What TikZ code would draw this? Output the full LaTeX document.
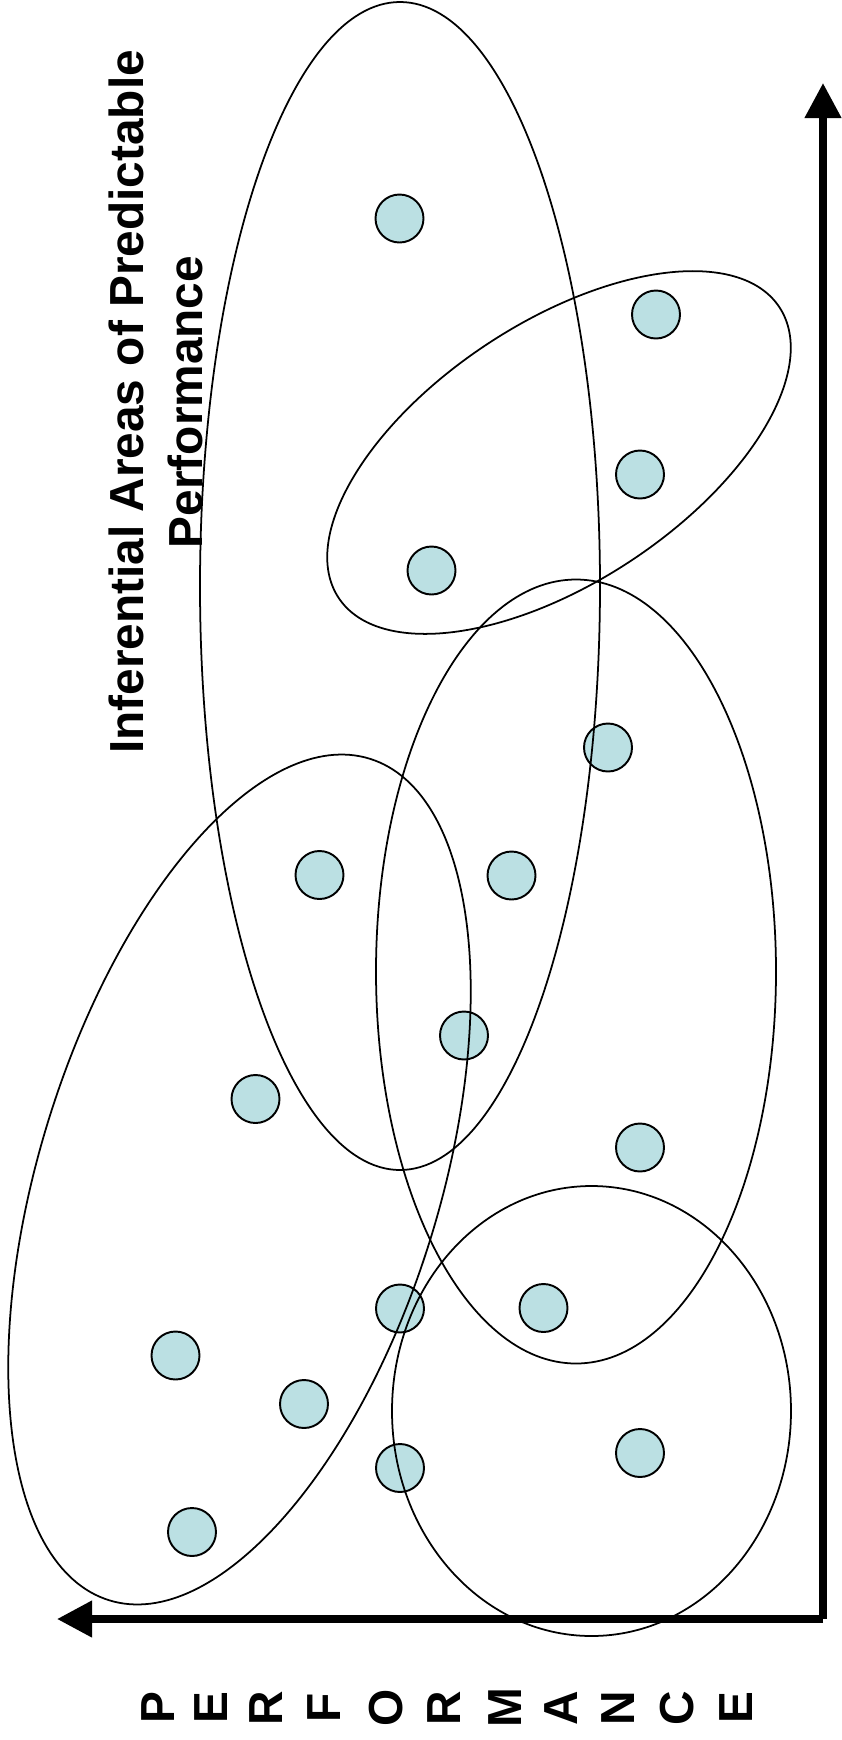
\documentclass[tikz,border=0pt]{standalone}
\usepackage{fontspec}
\setmainfont{Liberation Sans}
\usetikzlibrary{shapes.geometric, arrows.meta}
\usepackage{xcolor}
\definecolor{dotFill}{RGB}{187,224,227}
\tikzset{
    clusterDot/.style={
        circle, draw=black, fill=dotFill, line width=1.1pt, minimum size=0.96cm, inner sep=0pt
    },
    clusterArea/.style={
        ellipse, draw=black, line width=1pt, inner sep=0pt
    },
    axisArrow/.style={
        -{Triangle[length=0.7cm, width=0.7cm]}, line width=4.2pt, draw=black
    },
    axisLetter/.style={
        rotate=90, inner sep=0pt, font=\fontsize{27.2}{32}\selectfont\bfseries
    },
    titleText/.style={
        rotate=90, align=center, inner sep=0pt, font=\fontsize{27.2}{33.4}\selectfont\bfseries
    }
}

\begin{document}
\begin{tikzpicture}
    \useasboundingbox (0, 0) rectangle (16.82, -34.8);

    % ── TITLE
    \node[titleText] (areaTitle) at (3.12, -8.04) {Inferential Areas of Predictable\\Performance};

    % ── DATA POINTS
    \node[clusterDot] (dot1) at (7.99, -4.37) {};
    \node[clusterDot] (dot2) at (13.12, -6.29) {};
    \node[clusterDot] (dot3) at (12.80, -9.49) {};
    \node[clusterDot] (dot4) at (8.63, -11.41) {};
    \node[clusterDot] (dot5) at (12.16, -14.95) {};
    \node[clusterDot] (dot6) at (6.39, -17.50) {};
    \node[clusterDot] (dot7) at (10.23, -17.51) {};
    \node[clusterDot] (dot8) at (9.28, -20.71) {};
    \node[clusterDot] (dot9) at (5.11, -21.98) {};
    \node[clusterDot] (dot10) at (12.80, -22.95) {};
    \node[clusterDot] (dot11) at (8.00, -26.17) {};
    \node[clusterDot] (dot12) at (10.87, -26.16) {};
    \node[clusterDot] (dot13) at (3.51, -27.11) {};
    \node[clusterDot] (dot14) at (6.08, -28.08) {};
    \node[clusterDot] (dot15) at (8.00, -29.36) {};
    \node[clusterDot] (dot16) at (12.80, -29.06) {};
    \node[clusterDot] (dot17) at (3.84, -30.64) {};

    % ── AREAS (drawn over the points)
    \node[clusterArea, minimum width=8.0cm, minimum height=23.36cm] (areaA) at (8.00, -11.72) {};
    \node[clusterArea, minimum width=10.56cm, minimum height=5.2cm, rotate=33.4] (areaB) at (11.18, -9.05) {};
    \node[clusterArea, minimum width=8.0cm, minimum height=15.68cm] (areaC) at (11.52, -19.43) {};
    \node[clusterArea, minimum width=17.62cm, minimum height=8.0cm, rotate=72.8] (areaD) at (4.79, -23.59) {};
    \node[clusterArea, minimum width=7.98cm, minimum height=9.0cm] (areaE) at (11.83, -28.22) {};

    % ── AXES
    \coordinate (origin) at (16.46, -32.38);
    \coordinate (yTip) at (16.46, -1.66);
    \coordinate (xTip) at (1.14, -32.38);
    \draw[axisArrow] (origin) -- (yTip);
    \draw[axisArrow] (origin) -- (xTip);

    % ── AXIS LABEL
    \foreach \ch/\xx [count=\i] in {P/3.16, E/4.22, R/5.32, F/6.48, O/7.72, R/8.88, M/10.10, A/11.22, N/12.36, C/13.54, E/14.72}
        \node[axisLetter] (letter\i) at (\xx, -34.16) {\ch};
\end{tikzpicture}
\end{document}
